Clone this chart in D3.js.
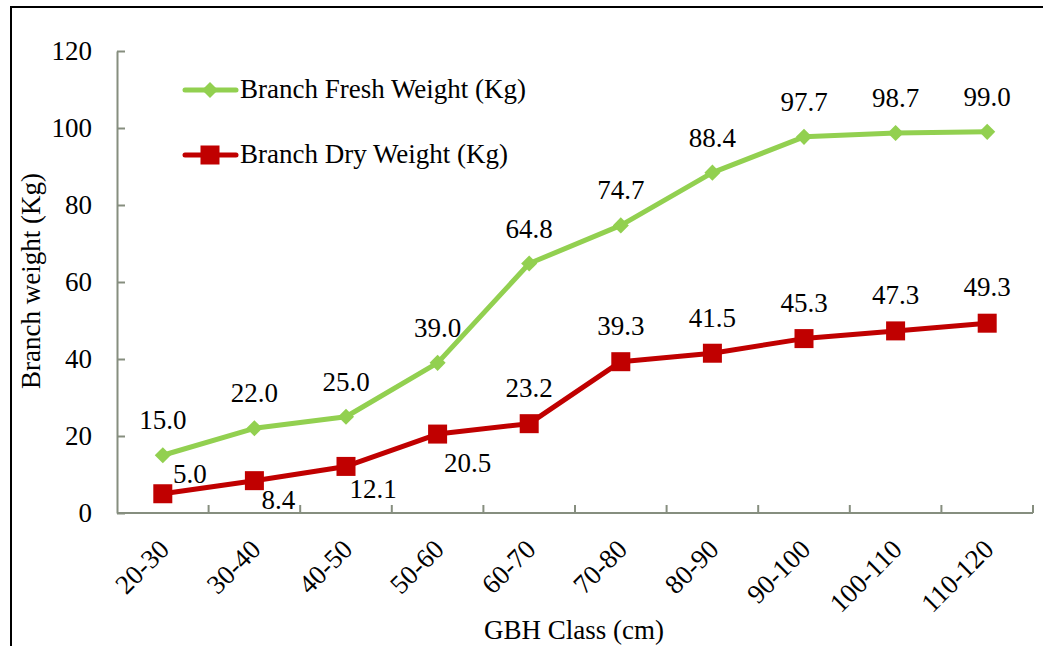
<!DOCTYPE html>
<html>
<head>
<meta charset="utf-8">
<script src="https://cdn.jsdelivr.net/npm/d3@7"></script>
<style>
  body { margin: 0; background: #fff; }
  svg text { font-family: "Liberation Serif", "DejaVu Serif", serif; fill: #000; }
</style>
</head>
<body>
<div id="chart"></div>
<script>
// data
var classes = ["20-30", "30-40", "40-50", "50-60", "60-70", "70-80", "80-90", "90-100", "100-110", "110-120"];
var freshWeight = [15.0, 22.0, 25.0, 39.0, 64.8, 74.7, 88.4, 97.7, 98.7, 99.0];
var dryWeight = [5.0, 8.4, 12.1, 20.5, 23.2, 39.3, 41.5, 45.3, 47.3, 49.3];
var yTicks = [0, 20, 40, 60, 80, 100, 120];
var seriesNames = ["Branch Fresh Weight (Kg)", "Branch Dry Weight (Kg)"];

// where each data label sits relative to its marker
var freshLabelOffsets = classes.map(function() { return [0, -26]; });
var dryLabelOffsets = [[27, -11], [24, 28], [27, 32], [30, 38], [0, -27], [0, -27], [0, -26], [0, -27], [0, -27], [0, -27]];

var svgWidth = 1043;
var svgHeight = 646;
var margin = { top: 51, left: 117 };
var width = 916;
var height = 462;

var green = "#92d050";
var red = "#c00000";
var axisColor = "#868e7f";
var serif = "'Liberation Serif', 'DejaVu Serif', serif";
var fontSize = "27px";

var svg = d3.select("#chart")
    .append("svg")
    .attr("width", svgWidth)
    .attr("height", svgHeight)
    .attr("font-family", serif);

// outer frame
svg.append("rect")
    .attr("x", 11).attr("y", 7)
    .attr("width", 1045).attr("height", 660)
    .attr("fill", "none")
    .attr("stroke", "#000")
    .attr("stroke-width", 2);

var chartGroup = svg.append("g")
    .attr("transform", `translate(${margin.left}, ${margin.top})`);

// scales
var xBand = d3.scaleBand()
    .domain(classes)
    .range([0, width]);

var yLinearScale = d3.scaleLinear()
    .domain([0, 120])
    .range([height, 0]);

var xPos = d => xBand(d) + xBand.bandwidth() / 2;

// y axis
var leftAxis = d3.axisLeft(yLinearScale)
    .tickValues(yTicks)
    .tickSizeInner(-8)
    .tickSizeOuter(0)
    .tickPadding(25);

var yAxisG = chartGroup.append("g").call(leftAxis).attr("font-family", serif);
yAxisG.select(".domain").attr("stroke", axisColor).attr("stroke-width", 2);
yAxisG.selectAll(".tick line").attr("stroke", axisColor).attr("stroke-width", 2);
yAxisG.selectAll(".tick text")
    .attr("font-size", fontSize)
    .attr("fill", "#000");

// x axis: ticks sit between classes
var xAxisG = chartGroup.append("g")
    .attr("transform", `translate(0, ${height})`);

xAxisG.append("line")
    .attr("x1", 0).attr("x2", width)
    .attr("stroke", axisColor).attr("stroke-width", 2);

xAxisG.selectAll(".xtick")
    .data(classes)
    .enter()
    .append("line")
    .attr("x1", d => xBand(d) + xBand.bandwidth())
    .attr("x2", d => xBand(d) + xBand.bandwidth())
    .attr("y1", 0).attr("y2", -8)
    .attr("stroke", axisColor).attr("stroke-width", 2);

xAxisG.selectAll(".xlabel")
    .data(classes)
    .enter()
    .append("text")
    .attr("transform", d => `translate(${xPos(d) + 8}, 38) rotate(-45)`)
    .attr("text-anchor", "end")
    .attr("font-size", fontSize)
    .text(d => d);

// lines
var line = d3.line()
    .x((d, i) => xPos(classes[i]))
    .y(d => yLinearScale(d));

chartGroup.append("path")
    .datum(dryWeight)
    .attr("d", line)
    .attr("fill", "none")
    .attr("stroke", red)
    .attr("stroke-width", 5)
    .attr("stroke-linejoin", "round");

chartGroup.append("path")
    .datum(freshWeight)
    .attr("d", line)
    .attr("fill", "none")
    .attr("stroke", green)
    .attr("stroke-width", 5)
    .attr("stroke-linejoin", "round");

// markers
var diamond = d3.symbol().type(d3.symbolDiamond2).size(165);

chartGroup.selectAll(".fresh")
    .data(freshWeight)
    .enter()
    .append("path")
    .attr("d", diamond)
    .attr("transform", (d, i) => `translate(${xPos(classes[i])}, ${yLinearScale(d)})`)
    .attr("fill", green);

chartGroup.selectAll(".dry")
    .data(dryWeight)
    .enter()
    .append("rect")
    .attr("x", (d, i) => xPos(classes[i]) - 9.5)
    .attr("y", d => yLinearScale(d) - 9.5)
    .attr("width", 19).attr("height", 19)
    .attr("fill", red);

// data labels
chartGroup.selectAll(".freshLabel")
    .data(freshWeight)
    .enter()
    .append("text")
    .attr("x", (d, i) => xPos(classes[i]) + freshLabelOffsets[i][0])
    .attr("y", (d, i) => yLinearScale(d) + freshLabelOffsets[i][1])
    .attr("text-anchor", "middle")
    .attr("font-size", fontSize)
    .text(d => d.toFixed(1));

chartGroup.selectAll(".dryLabel")
    .data(dryWeight)
    .enter()
    .append("text")
    .attr("x", (d, i) => xPos(classes[i]) + dryLabelOffsets[i][0])
    .attr("y", (d, i) => yLinearScale(d) + dryLabelOffsets[i][1])
    .attr("text-anchor", "middle")
    .attr("font-size", fontSize)
    .text(d => d.toFixed(1));

// legend
var legend = svg.append("g");
var legendRows = [
    { name: seriesNames[0], color: green, y: 90, shape: "diamond" },
    { name: seriesNames[1], color: red, y: 155, shape: "square" }
];

legendRows.forEach(function(row) {
    legend.append("line")
        .attr("x1", 185).attr("x2", 236)
        .attr("y1", row.y).attr("y2", row.y)
        .attr("stroke", row.color)
        .attr("stroke-width", 5)
        .attr("stroke-linecap", "round");
    if (row.shape === "diamond") {
        legend.append("path")
            .attr("d", diamond)
            .attr("transform", `translate(210, ${row.y})`)
            .attr("fill", row.color);
    } else {
        legend.append("rect")
            .attr("x", 200.5).attr("y", row.y - 9.5)
            .attr("width", 19).attr("height", 19)
            .attr("fill", row.color);
    }
    legend.append("text")
        .attr("x", 240)
        .attr("y", row.y + 8)
        .attr("font-size", fontSize)
        .text(row.name);
});

// axis titles
svg.append("text")
    .attr("transform", "translate(40, 281) rotate(-90)")
    .attr("text-anchor", "middle")
    .attr("font-size", fontSize)
    .text("Branch weight (Kg)");

svg.append("text")
    .attr("x", 574)
    .attr("y", 639)
    .attr("text-anchor", "middle")
    .attr("font-size", fontSize)
    .text("GBH Class (cm)");
</script>
</body>
</html>
